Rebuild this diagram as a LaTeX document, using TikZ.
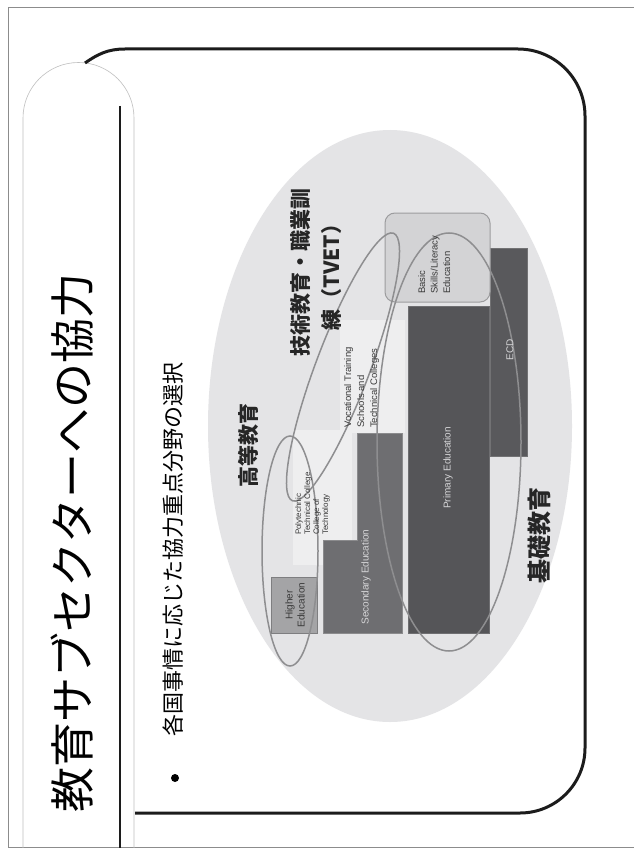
\documentclass[tikz,border=0pt]{standalone}
\usepackage{fontspec}
\setmainfont{Liberation Sans}
\newfontfamily\jp{Noto Sans CJK JP}
\definecolor{bgell}{HTML}{E4E4E6}
\definecolor{lightrect}{HTML}{EEEEEF}
\definecolor{higher}{HTML}{A4A4A6}
\definecolor{higherb}{HTML}{7E7E80}
\definecolor{second}{HTML}{6E6E71}
\definecolor{primary}{HTML}{555558}
\definecolor{ecd}{HTML}{59595C}
\definecolor{basic}{HTML}{D3D3D5}
\definecolor{basicb}{HTML}{9C9C9E}
\definecolor{ringc}{HTML}{8E8E90}
\definecolor{frame}{HTML}{1C1C1C}
\definecolor{bartext}{HTML}{D6D6D8}
\definecolor{darktext}{HTML}{3A3A3A}
\tikzset{
  ring/.style={draw=ringc, line width=1.5pt},
  bar/.style={line width=0.8pt},
  lab/.style={rotate=90, inner sep=0pt, font=\fontsize{10}{12}\selectfont},
  smalllab/.style={rotate=90, inner sep=0pt, align=left, text=darktext},
  jplab/.style={rotate=90, inner sep=0pt, align=center, text=black!85},
}
\begin{document}
\begin{tikzpicture}[x=1pt,y=-1pt]
\useasboundingbox (0,0) rectangle (633,848);
\fill[white] (0,0) rectangle (633,848);
% outer thin frame
\draw[black!45, line width=0.8pt] (8,7) rectangle (645,847);
% title tab
\draw[black!25, line width=0.6pt] (23,852) -- (23,118) arc[start angle=180, end angle=0, radius=55.5pt] -- (134,852);
% thick rounded frame
\draw[frame, line width=3pt] (85,63) .. controls (98,54) and (108,49) .. (125,49) -- (518,49)
  arc[start angle=90, end angle=0, radius=67pt] -- (585,748)
  arc[start angle=0, end angle=-90, radius=65pt] -- (135,813);
\draw[frame, line width=2.5pt] (120,106) -- (120,852);
% title
\node[rotate=90, inner sep=0pt, font=\jp\fontsize{45}{45}\selectfont] (title) at (72,543) {教育サブセクターへの協力};
% bullet
\fill[black] (175,778) circle[radius=4pt];
\node[rotate=90, inner sep=0pt, font=\jp\fontsize{22}{22}\selectfont] (bullet) at (173,549) {各国事情に応じた協力重点分野の選択};
% big background ellipse
\fill[bgell] (390,426) ellipse[x radius=182pt, y radius=296pt];
% light regions
\fill[lightrect] (293,430) rectangle (352,565);
\fill[lightrect] (340,320) rectangle (405,433);
% bars
\filldraw[bar, fill=higher, draw=higherb] (271,577) rectangle (317,633);
\filldraw[bar, fill=second, draw=second!80!white] (323,633) -- (323,540) -- (357,540) -- (357,433) -- (402,433) -- (402,633) -- cycle;
\filldraw[bar, fill=primary, draw=primary!85!white] (408,306) rectangle (489,633);
\filldraw[bar, fill=ecd, draw=ecd!85!white] (490,248) rectangle (527,456);
\filldraw[line width=1pt, fill=basic, draw=basicb, rounded corners=10pt] (385,213) rectangle (490,302);
% ellipse outlines
\draw[ring] (290,551) ellipse[x radius=28pt, y radius=115pt];
\draw[ring, rotate around={-20.7:(343,367)}] (343,367) ellipse[x radius=27pt, y radius=143pt];
\draw[ring] (449,442) ellipse[x radius=72pt, y radius=209pt];
% bar labels
\node[lab, align=center, text=darktext] (higherlab) at (295,605) {Higher\\Education};
\node[smalllab, anchor=north west, font=\fontsize{8}{9}\selectfont] (polylab) at (295,535) {Polytechnic\\Technical College\\College of\\Technology};
\node[smalllab, anchor=north west, font=\fontsize{9.5}{13}\selectfont] (voclab) at (344,428) {Vocational Training\\Schools and\\Technical Colleges};
\node[smalllab, anchor=north west, font=\fontsize{9.5}{12.5}\selectfont] (basiclab) at (418,294) {Basic\\Skills/Literacy\\Education};
\node[lab, text=bartext] (seclab) at (366,577) {Secondary Education};
\node[lab, text=bartext] (primlab) at (448,468) {Primary Education};
\node[lab, text=bartext] (ecdlab) at (510,350) {ECD};
% Japanese labels
\node[jplab, font=\jp\bfseries\fontsize{21}{21}\selectfont] (koto) at (248,445) {高等教育};
\node[jplab, font=\jp\bfseries\fontsize{21}{31}\selectfont] (tvet) at (316,272) {技術教育・職業訓\\練（TVET）};
\node[jplab, font=\jp\bfseries\fontsize{24}{24}\selectfont] (kiso) at (539,535) {基礎教育};
\end{tikzpicture}
\end{document}
